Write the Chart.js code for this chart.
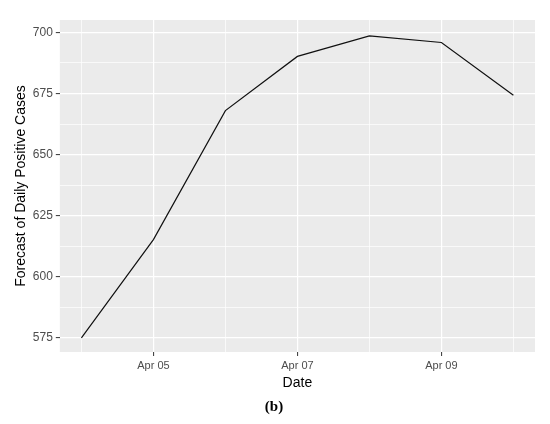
<!DOCTYPE html>
<html>
<head>
<meta charset="utf-8">
<script src="https://cdn.jsdelivr.net/npm/chart.js@4/dist/chart.umd.min.js"></script>
<style>
  html, body { margin: 0; padding: 0; background: #fff; }
  #wrap { width: 550px; height: 424px; }
</style>
</head>
<body>
<div id="wrap"><canvas id="chartCanvas" width="550" height="424"></canvas></div>
<script>
// data
var dates = ['Apr 04', 'Apr 05', 'Apr 06', 'Apr 07', 'Apr 08', 'Apr 09', 'Apr 10'];
var forecast = [575.0, 615.2, 668.0, 690.2, 698.6, 695.9, 674.3];
var yMajor = [575, 600, 625, 650, 675, 700];
var xMajor = ['Apr 05', 'Apr 07', 'Apr 09'];

var points = dates.map(function (d, i) {
    return { x: i, y: forecast[i] };
});

// grey ggplot panel
var panelBg = {
    id: 'panelBg',
    beforeDraw: function (chart) {
        var a = chart.chartArea;
        var ctx = chart.ctx;
        ctx.save();
        ctx.fillStyle = '#ebebeb';
        ctx.fillRect(a.left, a.top, a.right - a.left, a.bottom - a.top);
        ctx.restore();
    }
};

var isMajorX = function (v) { return xMajor.indexOf(dates[v]) >= 0; };
var isMajorY = function (v) { return yMajor.indexOf(v) >= 0; };

var ctx = document.getElementById('chartCanvas').getContext('2d');
new Chart(ctx, {
    type: 'line',
    data: {
        datasets: [{
            label: 'forecast',
            data: points,
            borderColor: '#111',
            borderWidth: 1.2,
            pointRadius: 0,
            tension: 0,
            fill: false
        }]
    },
    options: {
        responsive: false,
        animation: false,
        layout: { padding: { left: 13, right: 15, top: 20, bottom: 2 } },
        plugins: {
            legend: { display: false },
            tooltip: { enabled: false },
            title: {
                display: true,
                position: 'bottom',
                text: '(b)',
                color: '#000',
                font: { family: 'Liberation Serif', size: 15, weight: 'bold' },
                padding: { top: 6, bottom: 6 }
            }
        },
        scales: {
            x: {
                type: 'linear',
                min: -0.3,
                max: 6.3,
                border: { display: false },
                grid: {
                    color: '#ffffff',
                    lineWidth: function (c) { return isMajorX(c.tick.value) ? 1.2 : 0.7; },
                    tickColor: function (c) { return isMajorX(c.tick.value) ? '#333' : 'rgba(0,0,0,0)'; },
                    tickLength: 4,
                    tickWidth: 1
                },
                ticks: {
                    stepSize: 1,
                    includeBounds: false,
                    autoSkip: false,
                    maxRotation: 0,
                    padding: 3,
                    color: '#4d4d4d',
                    font: { family: 'Liberation Sans', size: 11 },
                    callback: function (v) { return isMajorX(v) ? dates[v] : ''; }
                },
                title: {
                    display: true,
                    text: 'Date',
                    color: '#000',
                    font: { family: 'Liberation Sans', size: 14 },
                    padding: { top: 0, bottom: 0 }
                }
            },
            y: {
                min: 569.2,
                max: 705.1,
                border: { display: false },
                grid: {
                    color: '#ffffff',
                    lineWidth: function (c) { return isMajorY(c.tick.value) ? 1.2 : 0.7; },
                    tickColor: function (c) { return isMajorY(c.tick.value) ? '#333' : 'rgba(0,0,0,0)'; },
                    tickLength: 4,
                    tickWidth: 1
                },
                ticks: {
                    stepSize: 12.5,
                    includeBounds: false,
                    padding: 3,
                    color: '#4d4d4d',
                    font: { family: 'Liberation Sans', size: 12 },
                    callback: function (v) { return isMajorY(v) ? String(v) : ''; }
                },
                title: {
                    display: true,
                    text: 'Forecast of Daily Positive Cases',
                    color: '#000',
                    font: { family: 'Liberation Sans', size: 14 },
                    padding: { top: 0, bottom: 0 }
                }
            }
        }
    },
    plugins: [panelBg]
});
</script>
</body>
</html>
